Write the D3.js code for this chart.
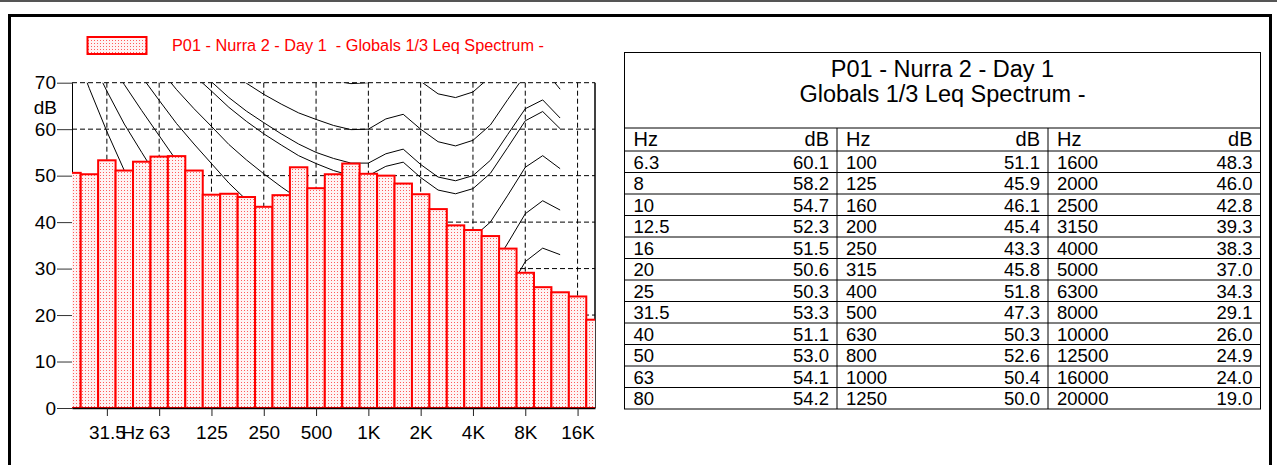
<!DOCTYPE html>
<html><head><meta charset="utf-8">
<script src="https://cdn.jsdelivr.net/npm/d3@7"></script>
<style>
html,body{margin:0;padding:0;background:#fff;}
svg{display:block;font-family:"Liberation Sans",Arial,sans-serif;}
</style></head><body>
<svg id="c" width="1277" height="465"></svg>
<script>
// ---------- DATA ----------
const bandsHz = ["6.3","8","10","12.5","16","20","25","31.5","40","50","63","80","100","125","160","200","250","315","400","500","630","800","1000","1250","1600","2000","2500","3150","4000","5000","6300","8000","10000","12500","16000","20000"];
const levels = [60.1,58.2,54.7,52.3,51.5,50.6,50.3,53.3,51.1,53.0,54.1,54.2,51.1,45.9,46.1,45.4,43.3,45.8,51.8,47.3,50.3,52.6,50.4,50.0,48.3,46.0,42.8,39.3,38.3,37.0,34.3,29.1,26.0,24.9,24.0,19.0];

// x-axis octave tick bands and their labels
const tickBands = ["31.5","63","125","250","500","1000","2000","4000","8000","16000"];
const tickLabels = ["31.5","63","125","250","500","1K","2K","4K","8K","16K"];
const yTicks = [0,10,20,30,40,50,60,70];

// loudness contour overlay (bands 20 Hz .. 12.5 kHz)
const contourBands = ["20","25","31.5","40","50","63","80","100","125","160","200","250","315","400","500","630","800","1000","1250","1600","2000","2500","3150","4000","5000","6300","8000","10000","12500"];
const contourThreshold = [78.5,68.7,59.5,51.1,44.0,37.5,31.5,26.5,22.1,17.9,14.4,11.4,8.6,6.2,4.4,3.0,2.2,2.4,3.5,1.7,-1.3,-4.2,-6.0,-5.4,-1.5,6.0,12.6,13.9,12.3];
const contour10 = [83.8,75.8,68.2,61.1,55.0,49.0,43.2,38.1,33.5,28.8,24.8,21.3,18.1,15.1,13.0,11.2,10.0,10.0,11.3,10.4,7.3,4.5,3.0,3.8,7.5,14.4,21.0,23.4,22.3];
const contour20 = [89.6,82.7,76.0,69.6,64.0,58.6,53.2,48.4,43.9,39.4,35.5,32.0,28.7,25.7,23.4,21.5,20.1,20.0,21.5,21.4,18.2,15.4,14.3,15.1,18.6,25.0,31.5,34.4,33.0];
const contour30 = [94.9,88.5,82.4,76.5,71.3,66.2,61.2,56.8,52.6,48.4,44.8,41.5,38.4,35.5,33.4,31.5,30.1,30.0,31.7,32.0,28.8,26.0,25.1,26.0,29.4,35.5,41.8,44.6,42.6];
const contour40 = [99.9,93.9,88.2,82.6,77.8,73.1,68.5,64.4,60.6,56.7,53.4,50.4,47.6,45.0,43.1,41.3,40.1,40.0,41.8,42.5,39.2,36.5,35.6,36.7,40.0,45.8,51.8,54.3,51.5];
const contour50 = [104.7,99.1,93.7,88.5,84.0,79.6,75.4,71.6,68.2,64.7,61.7,59.0,56.6,54.3,52.6,51.1,50.0,50.0,52.0,52.9,49.6,46.9,46.1,47.2,50.5,56.1,61.8,63.8,60.1];
const contour53 = [106.0,100.5,95.2,90.0,85.6,81.3,77.2,73.5,70.2,66.8,63.9,61.4,59.0,56.8,55.0,53.7,52.7,52.7,54.7,55.7,52.4,49.7,48.9,50.0,53.3,58.9,64.4,66.3,62.4];
const contour60 = [109.5,104.2,99.1,94.2,90.0,85.9,82.1,78.7,75.6,72.5,69.9,67.5,65.4,63.5,62.1,60.8,59.9,60.0,62.2,63.2,60.0,57.3,56.4,57.6,60.9,66.4,71.7,73.2,68.6];
const contour70 = [114.3,109.3,104.4,99.8,95.9,92.2,88.6,85.6,82.9,80.2,77.9,75.9,74.2,72.6,71.5,70.5,69.8,70.0,72.3,73.5,70.3,67.6,66.8,68.0,71.3,76.6,81.5,82.5,77.0];
const contours = [contourThreshold,contour10,contour20,contour30,contour40,contour50,contour53,contour60,contour70];

const legendText = "P01 - Nurra 2 - Day 1  - Globals 1/3 Leq Spectrum -";
const tableTitle1 = "P01 - Nurra 2 - Day 1";
const tableTitle2 = "Globals 1/3 Leq Spectrum -";

// ---------- DRAW ----------
const svg = d3.select("#c");
const defs = svg.append("defs");
const pat = defs.append("pattern").attr("id","dots").attr("patternUnits","userSpaceOnUse")
  .attr("width",3).attr("height",3);
pat.append("rect").attr("width",3).attr("height",3).attr("fill","#fff3f3");
pat.append("rect").attr("x",1).attr("y",1).attr("width",1).attr("height",1).attr("fill","#ff5a5a");

const L = 72, R = 595, T = 82.7, B = 408;
defs.append("clipPath").attr("id","plotclip").append("rect")
  .attr("x",L).attr("y",T).attr("width",R-L).attr("height",B-T);

// top edge and outer frame
svg.append("rect").attr("x",0).attr("y",0).attr("width",1277).attr("height",2).attr("fill","#555");
svg.append("rect").attr("x",9.5).attr("y",15.5).attr("width",1261).attr("height",480)
  .attr("fill","none").attr("stroke","#000").attr("stroke-width",3);

const chartBands = bandsHz.slice(5);
const chartLevels = levels.slice(5);
const x = d3.scalePoint().domain(chartBands).range([L, R]);
const step = x.step();
const y = d3.scaleLinear().domain([0,70]).range([B, T]);

// grid
const grid = svg.append("g").attr("stroke","#000").attr("stroke-width",1).attr("stroke-dasharray","5,3");
grid.selectAll("line.h").data(yTicks.filter(d=>d>0)).join("line").attr("class","h")
  .attr("x1",L).attr("x2",R).attr("y1",d=>y(d)).attr("y2",d=>y(d));
grid.selectAll("line.v").data(tickBands).join("line").attr("class","v")
  .attr("x1",d=>x(d)).attr("x2",d=>x(d)).attr("y1",y(70)).attr("y2",y(0));

// right border of plot
svg.append("line").attr("x1",R).attr("x2",R).attr("y1",T).attr("y2",B).attr("stroke","#000").attr("stroke-width",1.5);

// y axis
const yAxis = d3.axisLeft(y).tickValues(yTicks).tickSize(15).tickPadding(1).tickSizeOuter(0);
const gy = svg.append("g").attr("transform",`translate(${L},0)`).call(yAxis);
gy.select(".domain").attr("stroke","#000");
gy.selectAll(".tick line").attr("stroke","#333");
gy.selectAll("text").attr("font-size",19).attr("fill","#000").attr("font-family","Liberation Sans, Arial, sans-serif");
svg.append("text").attr("x",57).attr("y",107).attr("dy","0.35em").attr("text-anchor","end")
  .attr("font-size",19).text("dB");

// contours
const plot = svg.append("g").attr("clip-path","url(#plotclip)");
const line = d3.line().x((d,i)=>x(contourBands[i])).y(d=>y(d));
plot.selectAll("path.contour").data(contours).join("path").attr("class","contour")
  .attr("d",line).attr("fill","none").attr("stroke","#000").attr("stroke-width",1);

// bars
plot.selectAll("rect.bar").data(chartLevels).join("rect").attr("class","bar")
  .attr("x",(d,i)=>x(chartBands[i]) - step/2).attr("width",step)
  .attr("y",d=>y(d)).attr("height",d=>y(0)-y(d))
  .attr("fill","url(#dots)").attr("stroke","#ff0000").attr("stroke-width",2);

// x axis
const xAxis = d3.axisBottom(x).tickValues(tickBands).tickFormat((d,i)=>tickLabels[i])
  .tickSize(8).tickPadding(10).tickSizeOuter(0);
const gx = svg.append("g").attr("transform",`translate(0,${B})`).call(xAxis);
gx.select(".domain").attr("stroke","#000").attr("stroke-width",1.5);
gx.selectAll(".tick line").attr("stroke","#222");
gx.selectAll("text").attr("font-size",19).attr("fill","#000").attr("font-family","Liberation Sans, Arial, sans-serif");
svg.append("text").attr("x",133).attr("y",B+18).attr("dy","0.71em").attr("text-anchor","middle")
  .attr("font-size",19).text("Hz");

// legend
svg.append("rect").attr("x",87.5).attr("y",37).attr("width",59).attr("height",17)
  .attr("fill","url(#dots)").attr("stroke","#ff0000").attr("stroke-width",2);
svg.append("text").attr("x",172).attr("y",45.5).attr("dy","0.35em").attr("fill","#ff0000")
  .attr("font-size",16.3).style("white-space","pre").text(legendText);

// table
const tb = svg.append("g");
const tL = 624.5, tR = 1260.5, tT = 52.5, tB = 409;
const colX = [tL, 837, 1048, tR];
const hdrTop = 128, hdrBot = 151;
const rowH = (tB - hdrBot)/12;
tb.append("rect").attr("x",tL).attr("y",tT).attr("width",tR-tL).attr("height",tB-tT)
  .attr("fill","#fff").attr("stroke","#000").attr("stroke-width",1);
tb.append("text").attr("x",(tL+tR)/2).attr("y",76.5).attr("text-anchor","middle").attr("font-size",23.5).text(tableTitle1);
tb.append("text").attr("x",(tL+tR)/2).attr("y",102).attr("text-anchor","middle").attr("font-size",23.5).text(tableTitle2);
const hLines = [hdrTop, hdrBot].concat(d3.range(1,12).map(i=>hdrBot + i*rowH));
tb.selectAll("line.hl").data(hLines).join("line").attr("class","hl")
  .attr("x1",tL).attr("x2",tR).attr("y1",d=>d).attr("y2",d=>d).attr("stroke","#000");
tb.selectAll("line.vl").data([colX[1],colX[2]]).join("line").attr("class","vl")
  .attr("x1",d=>d).attr("x2",d=>d).attr("y1",hdrTop).attr("y2",tB).attr("stroke","#000");
const fmt = d3.format(".1f");
for (let c=0;c<3;c++){
  tb.append("text").attr("x",colX[c]+9).attr("y",hdrBot-5).attr("font-size",20).text("Hz");
  tb.append("text").attr("x",colX[c+1]-8).attr("y",hdrBot-5).attr("text-anchor","end").attr("font-size",20).text("dB");
  for (let r=0;r<12;r++){
    const k = c*12 + r;
    const by = hdrBot + (r+1)*rowH - 4;
    tb.append("text").attr("x",colX[c]+9).attr("y",by).attr("font-size",18.5).text(bandsHz[k]);
    tb.append("text").attr("x",colX[c+1]-8).attr("y",by).attr("text-anchor","end").attr("font-size",18.5).text(fmt(levels[k]));
  }
}
</script>
</body></html>
